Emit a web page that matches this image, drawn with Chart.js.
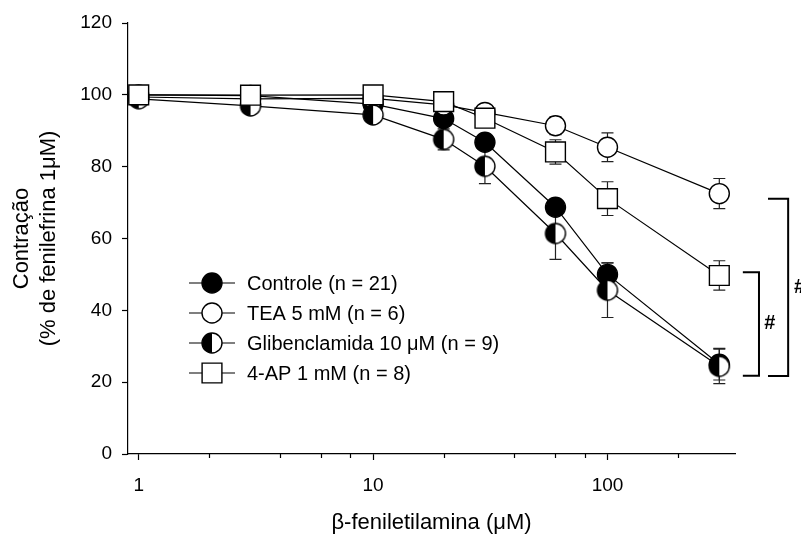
<!DOCTYPE html>
<html>
<head>
<meta charset="utf-8">
<script src="https://cdn.jsdelivr.net/npm/chart.js@4.4.1/dist/chart.umd.min.js"></script>
<style>
  html, body { margin: 0; padding: 0; background: #fff; }
  canvas { display: block; }
</style>
</head>
<body>
<canvas id="chart_contracao" width="801" height="537"></canvas>
<script>
// concentrations (µM)
const doses = [1, 3, 10, 20, 30, 60, 100, 300];

// contraction, % of phenylephrine 1 µM (mean and SEM)
const controle = [100, 99.8, 97.4, 93.4, 86.8, 68.7, 50.0, 25.0];
const controleSem = [0, 0, 0.6, 1, 1.2, 2, 3.2, 4.4];
const tea = [99.4, 98.9, 99.0, 97.2, 95.1, 91.4, 85.4, 72.5];
const teaSem = [0, 0, 0, 0.8, 1, 2.5, 4, 4.2];
const glib = [98.9, 96.9, 94.4, 87.6, 80.1, 61.4, 45.6, 24.4];
const glibSem = [0, 0, 0, 2.9, 4.8, 7.2, 7.6, 4.8];
const ap = [100, 99.9, 100, 98.1, 93.5, 84.1, 71.1, 49.7];
const apSem = [0, 0, 0, 0.5, 1, 3.4, 4.7, 4.1];

const seriesLabels = ['Controle (n = 21)', 'TEA 5 mM (n = 6)', 'Glibenclamida 10 \u03bcM (n = 9)', '4-AP 1 mM (n = 8)'];

const xMajorTicks = [1, 10, 100];
const xMinorTicks = [2, 4, 6, 8, 20, 40, 60, 80, 200];

// significance brackets (x in µM, y in %)
const brackets = [
  { x0: 378, x1: 443, yTop: 50.6, yBottom: 21.8, labelX: 493 },
  { x0: 484, x1: 590, yTop: 71.1, yBottom: 21.7, labelX: 660 }
];

const FONT = '"Liberation Sans", Arial, Helvetica, sans-serif';

function toPoints(values) {
  return doses.map((d, i) => ({ x: d, y: values[i] }));
}

// circle with left half filled
function halfCircle(r) {
  const c = document.createElement('canvas');
  const s = Math.ceil(r * 2 + 4);
  c.width = s; c.height = s;
  const g = c.getContext('2d');
  const m = s / 2;
  g.fillStyle = '#fff';
  g.beginPath(); g.arc(m, m, r, 0, Math.PI * 2); g.fill();
  g.fillStyle = '#000';
  g.beginPath(); g.arc(m, m, r, Math.PI / 2, Math.PI * 1.5); g.closePath(); g.fill();
  g.lineWidth = 1.4; g.strokeStyle = '#000';
  g.beginPath(); g.arc(m, m, r, 0, Math.PI * 2); g.stroke();
  return c;
}

const errorBars = {
  id: 'errorBars',
  beforeDatasetsDraw(chart) {
    const { ctx, scales: { x, y } } = chart;
    ctx.save();
    ctx.strokeStyle = '#222';
    ctx.lineWidth = 1.2;
    chart.data.datasets.forEach(ds => {
      ds.data.forEach((p, i) => {
        const e = ds.sem[i];
        if (!e) return;
        const px = x.getPixelForValue(p.x);
        const top = y.getPixelForValue(p.y + e);
        const bot = y.getPixelForValue(p.y - e);
        ctx.beginPath();
        ctx.moveTo(px, top); ctx.lineTo(px, bot);
        ctx.moveTo(px - 6, top); ctx.lineTo(px + 6, top);
        ctx.moveTo(px - 6, bot); ctx.lineTo(px + 6, bot);
        ctx.stroke();
      });
    });
    ctx.restore();
  }
};

const extras = {
  id: 'extras',
  afterDraw(chart) {
    const { ctx, scales: { x, y } } = chart;
    const o = chart.options.plugins.extras;
    ctx.save();

    // minor ticks on the log axis
    ctx.strokeStyle = '#000';
    ctx.lineWidth = 1.2;
    ctx.beginPath();
    xMinorTicks.forEach(v => {
      const px = Math.round(x.getPixelForValue(v)) + 0.5;
      ctx.moveTo(px, y.bottom);
      ctx.lineTo(px, y.bottom + 4);
    });
    ctx.stroke();

    // legend inside the plot
    chart.data.datasets.forEach((ds, i) => {
      const ly = o.legendTop + i * o.legendRow;
      ctx.strokeStyle = '#000';
      ctx.lineWidth = 1.2;
      ctx.beginPath();
      ctx.moveTo(o.legendLeft, ly);
      ctx.lineTo(o.legendLeft + o.legendLine, ly);
      ctx.stroke();
      ctx.fillStyle = ds.pointBackgroundColor;
      ctx.strokeStyle = ds.pointBorderColor;
      ctx.lineWidth = ds.pointBorderWidth;
      Chart.helpers.drawPoint(ctx, {
        pointStyle: ds.pointStyle, radius: ds.pointRadius,
        borderWidth: ds.pointBorderWidth, rotation: 0
      }, o.legendLeft + o.legendLine / 2, ly);
      ctx.fillStyle = '#000';
      ctx.font = '20px ' + FONT;
      ctx.textBaseline = 'middle';
      ctx.textAlign = 'left';
      ctx.fillText(ds.label, o.legendText, ly + 1);
    });

    // significance brackets
    ctx.strokeStyle = '#000';
    ctx.lineWidth = 2;
    ctx.fillStyle = '#000';
    ctx.font = 'bold 20px ' + FONT;
    ctx.textBaseline = 'middle';
    ctx.textAlign = 'center';
    brackets.forEach(b => {
      const x0 = x.getPixelForValue(b.x0), x1 = x.getPixelForValue(b.x1);
      const yt = y.getPixelForValue(b.yTop), yb = y.getPixelForValue(b.yBottom);
      ctx.beginPath();
      ctx.moveTo(x0, yt); ctx.lineTo(x1, yt); ctx.lineTo(x1, yb); ctx.lineTo(x0, yb);
      ctx.stroke();
      ctx.fillText('#', x.getPixelForValue(b.labelX), (yt + yb) / 2);
    });
    ctx.restore();
  }
};

const ctxContracao = document.getElementById('chart_contracao').getContext('2d');
const chartContracao = new Chart(ctxContracao, {
  type: 'line',
  data: {
    datasets: [{
      label: seriesLabels[0],
      data: toPoints(controle),
      sem: controleSem,
      pointStyle: 'circle', pointRadius: 10,
      pointBackgroundColor: '#000', pointBorderColor: '#000', pointBorderWidth: 1.4,
      order: 4
    }, {
      label: seriesLabels[1],
      data: toPoints(tea),
      sem: teaSem,
      pointStyle: 'circle', pointRadius: 10,
      pointBackgroundColor: '#fff', pointBorderColor: '#000', pointBorderWidth: 1.4,
      order: 3
    }, {
      label: seriesLabels[2],
      data: toPoints(glib),
      sem: glibSem,
      pointStyle: halfCircle(10), pointRadius: 10,
      pointBackgroundColor: '#fff', pointBorderColor: '#000', pointBorderWidth: 1.4,
      order: 2
    }, {
      label: seriesLabels[3],
      data: toPoints(ap),
      sem: apSem,
      pointStyle: 'rect', pointRadius: 14,
      pointBackgroundColor: '#fff', pointBorderColor: '#000', pointBorderWidth: 1.4,
      order: 1
    }].map(ds => Object.assign({
      borderColor: '#000', borderWidth: 1.2, tension: 0, fill: false, clip: false
    }, ds))
  },
  options: {
    responsive: false,
    animation: false,
    events: [],
    layout: { padding: { left: 0, right: 66, top: 23, bottom: 0 } },
    plugins: {
      legend: { display: false },
      tooltip: { enabled: false },
      extras: { legendLeft: 189, legendLine: 46, legendText: 247, legendTop: 283, legendRow: 30 }
    },
    scales: {
      x: {
        type: 'logarithmic',
        min: 0.9,
        max: 350,
        afterFit: s => { s.height = 83; },
        afterBuildTicks: s => { s.ticks = xMajorTicks.map(v => ({ value: v })); },
        ticks: {
          callback: v => String(v),
          autoSkip: false, maxRotation: 0,
          color: '#000', padding: 14,
          font: { family: FONT, size: 19 }
        },
        grid: { drawOnChartArea: false, tickLength: 6, tickColor: '#000', tickWidth: 1.2 },
        border: { color: '#000', width: 1.2 },
        title: {
          display: true, text: '\u03b2-feniletilamina (\u03bcM)', color: '#000',
          font: { family: FONT, size: 22 }, padding: { top: 0, bottom: 1 }
        }
      },
      y: {
        min: 0,
        max: 120,
        afterFit: s => { s.width = 128; },
        ticks: {
          stepSize: 20, color: '#000', padding: 10,
          font: { family: FONT, size: 19 }
        },
        grid: { drawOnChartArea: false, tickLength: 6, tickColor: '#000', tickWidth: 1.2 },
        border: { color: '#000', width: 1.2 },
        title: {
          display: true, text: ['Contra\u00e7\u00e3o', '(% de fenilefrina 1\u03bcM)'], color: '#000',
          font: { family: FONT, size: 22 }, padding: { top: 9, bottom: 0 }
        }
      }
    }
  },
  plugins: [errorBars, extras]
});
</script>
</body>
</html>
